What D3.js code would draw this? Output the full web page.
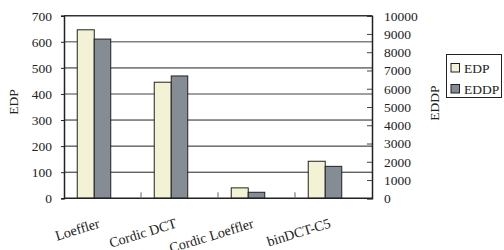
<!DOCTYPE html>
<html><head><meta charset="utf-8">
<script src="https://cdn.jsdelivr.net/npm/d3@7"></script>
<style>body{margin:0;background:#fff}svg{display:block}text{font-family:"Liberation Serif","Times New Roman",serif;fill:#222}</style>
</head><body>
<svg id="c" width="504" height="250"></svg>
<script>
const categories = ["Loeffler", "Cordic DCT", "Cordic Loeffler", "binDCT-C5"];
const edpValues = [646, 445, 40, 142];
const eddpValues = [8720, 6700, 330, 1750];
const leftTicks = [0, 100, 200, 300, 400, 500, 600, 700];
const rightTicks = [0, 1000, 2000, 3000, 4000, 5000, 6000, 7000, 8000, 9000, 10000];
const seriesNames = ["EDP", "EDDP"];
const seriesColors = ["#f3f2d4", "#858c94"];

const svg = d3.select("#c");
const L = 64, R = 372, T = 15.7, B = 198.3;
const x = d3.scaleBand().domain(categories).range([L, R]).padding(0);
const bw = x.bandwidth();
const sub = d3.scaleBand().domain(seriesNames).range([bw * 0.172, bw * 0.172 + 34]).padding(0);
const yL = d3.scaleLinear().domain([0, 700]).range([B, T]);
const yR = d3.scaleLinear().domain([0, 10000]).range([B, T]);

// gridlines
svg.append("g").selectAll("line").data(leftTicks.filter(d => d > 0 && d < 700)).join("line")
  .attr("x1", L).attr("x2", R).attr("y1", d => yL(d)).attr("y2", d => yL(d))
  .attr("stroke", d => d >= 400 ? "#808080" : "#222").attr("stroke-width", d => d >= 400 ? 1.6 : 1);

// bars
const g = svg.append("g");
g.selectAll(".edp").data(categories).join("rect")
  .attr("x", d => x(d) + sub("EDP")).attr("width", sub.bandwidth())
  .attr("y", (d, i) => yL(edpValues[i])).attr("height", (d, i) => B - yL(edpValues[i]))
  .attr("fill", seriesColors[0]).attr("stroke", "#222").attr("stroke-width", 1);
g.selectAll(".eddp").data(categories).join("rect")
  .attr("x", d => x(d) + sub("EDDP")).attr("width", sub.bandwidth() - 0.5)
  .attr("y", (d, i) => yR(eddpValues[i])).attr("height", (d, i) => B - yR(eddpValues[i]))
  .attr("fill", seriesColors[1]).attr("stroke", "#222").attr("stroke-width", 1);

// frame
svg.append("line").attr("x1", L).attr("x2", R).attr("y1", T).attr("y2", T).attr("stroke", "#333").attr("stroke-width", 1.5);

// left axis
const axL = svg.append("g").attr("transform", `translate(${L},0)`)
  .call(d3.axisLeft(yL).tickValues(leftTicks).tickSize(3).tickPadding(9));
axL.select(".domain").attr("stroke", "#222").attr("stroke-width", 1.5);
axL.selectAll("text").style("font-size", "13.5px").attr("fill", "#222");
axL.selectAll(".tick line").attr("stroke", "#222");

// right axis
const axR = svg.append("g").attr("transform", `translate(${R},0)`)
  .call(d3.axisRight(yR).tickValues(rightTicks).tickSize(-5).tickPadding(12).tickFormat(d3.format("d")));
axR.select(".domain").attr("stroke", "#222").attr("stroke-width", 1.5);
axR.selectAll("text").style("font-size", "13.5px").attr("fill", "#222");
axR.selectAll(".tick line").attr("stroke", "#444");

// bottom axis
const axB = svg.append("g").attr("transform", `translate(0,${B})`);
axB.append("line").attr("x1", L).attr("x2", R).attr("y1", 0).attr("y2", 0).attr("stroke", "#222").attr("stroke-width", 1.5);
axB.selectAll(".tk").data(categories.slice(1)).join("line")
  .attr("x1", d => x(d)).attr("x2", d => x(d)).attr("y1", 0).attr("y2", -6).attr("stroke", "#666");
axB.selectAll(".lbl").data(categories).join("text")
  .attr("text-anchor", "end")
  .attr("transform", d => `translate(${x(d) + bw / 2 - 2},${29}) rotate(-17)`)
  .style("font-size", "14px").text(d => d);

// axis titles
svg.append("text").attr("transform", "translate(18,102) rotate(-90)").attr("text-anchor", "middle")
  .style("font-size", "13.5px").text("EDP");
svg.append("text").attr("transform", "translate(439,103) rotate(-90)").attr("text-anchor", "middle")
  .style("font-size", "13.5px").text("EDDP");

// legend
const lg = svg.append("g");
lg.append("rect").attr("x", 446.5).attr("y", 54.5).attr("width", 55).attr("height", 43)
  .attr("fill", "#fff").attr("stroke", "#222");
seriesNames.forEach((s, i) => {
  lg.append("rect").attr("x", 451).attr("y", 63.5 + i * 21).attr("width", 8.5).attr("height", 8.5)
    .attr("fill", seriesColors[i]).attr("stroke", "#222");
  lg.append("text").attr("x", 464).attr("y", 73 + i * 21).style("font-size", "13.5px").text(s);
});
</script>
</body></html>
